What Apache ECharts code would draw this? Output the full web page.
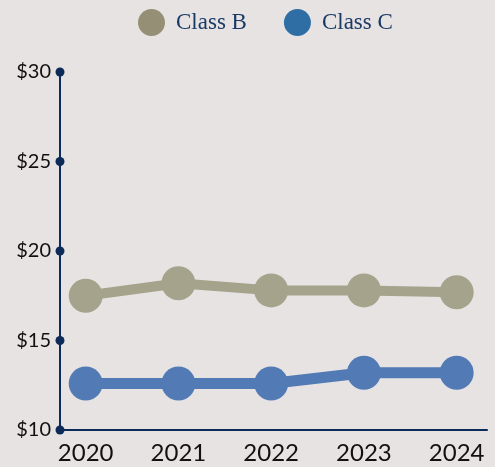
<!DOCTYPE html>
<html>
<head>
<meta charset="utf-8">
<style>
  html, body { margin: 0; padding: 0; background: #e8e3e3; }
  #chart { width: 495px; height: 467px; }
</style>
<script src="https://cdn.jsdelivr.net/npm/echarts@6/dist/echarts.min.js"></script>
</head>
<body>
<div id="chart"></div>
<script>
// Average price per year for two classes
const years = [2020, 2021, 2022, 2023, 2024];
const classB = [17.5, 18.2, 17.8, 17.8, 17.7];
const classC = [12.6, 12.6, 12.6, 13.2, 13.2];
const yTicks = [10, 15, 20, 25, 30];

const navy = '#0d2b58';
const xMin = 2019.723;
const xMax = 2024.327;

const chart = echarts.init(document.getElementById('chart'));
chart.setOption({
  backgroundColor: '#e8e3e3',
  animation: false,
  legend: {
    top: 4,
    left: 133,
    itemWidth: 27,
    itemHeight: 27,
    itemGap: 37,
    icon: 'circle',
    textStyle: {
      color: '#1a3a66',
      fontFamily: 'Liberation Serif',
      fontSize: 23,
      padding: [0, 0, 0, 6]
    },
    data: [
      { name: 'Class B', itemStyle: { color: '#948f75' } },
      { name: 'Class C', itemStyle: { color: '#2e6ea4' } }
    ]
  },
  grid: { left: 60, right: 8, top: 72, bottom: 37, containLabel: false },
  xAxis: {
    type: 'value',
    min: xMin,
    max: xMax,
    splitLine: { show: false },
    axisTick: { show: false },
    axisLine: { show: true, lineStyle: { color: navy, width: 2 } },
    axisLabel: {
      customValues: years,
      formatter: v => String(Math.round(v)),
      color: '#111',
      fontFamily: 'Lato',
      fontSize: 24,
      margin: 11
    }
  },
  yAxis: {
    type: 'value',
    min: 10,
    max: 30,
    interval: 5,
    splitLine: { show: false },
    axisTick: { show: false },
    axisLine: { show: true, lineStyle: { color: navy, width: 2 } },
    axisLabel: {
      formatter: v => '$' + v,
      color: '#111',
      fontFamily: 'Lato',
      fontSize: 20,
      margin: 9
    }
  },
  series: [
    {
      name: 'Class B',
      type: 'line',
      data: years.map((y, i) => [y, classB[i]]),
      symbol: 'circle',
      symbolSize: 34,
      lineStyle: { color: '#a5a38b', width: 10 },
      itemStyle: { color: '#a5a38b' },
      z: 3
    },
    {
      name: 'Class C',
      type: 'line',
      data: years.map((y, i) => [y, classC[i]]),
      symbol: 'circle',
      symbolSize: 34,
      lineStyle: { color: '#527bb5', width: 11 },
      itemStyle: { color: '#527bb5' },
      z: 3
    },
    {
      // dots marking each y-axis tick
      name: 'ticks',
      type: 'scatter',
      data: yTicks.map(v => [xMin, v]),
      symbol: 'circle',
      symbolSize: 9,
      itemStyle: { color: navy, opacity: 1 },
      emphasis: { disabled: true },
      clip: false,
      silent: true,
      z: 5
    }
  ]
});
</script>
</body>
</html>
